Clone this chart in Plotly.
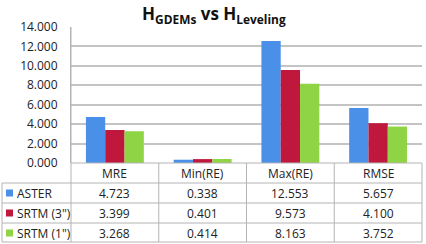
import plotly.graph_objects as go

categories = ["MRE", "Min(RE)", "Max(RE)", "RMSE"]
series_names = ["ASTER", 'SRTM (3")', 'SRTM (1")']
aster = [4.723, 0.338, 12.553, 5.657]
srtm3 = [3.399, 0.401, 9.573, 4.100]
srtm1 = [3.268, 0.414, 8.163, 3.752]
series_values = [aster, srtm3, srtm1]
colors = ["#4a8fe8", "#c0173c", "#8fd445"]
y_ticks = [0, 2, 4, 6, 8, 10, 12, 14]
y_tick_labels = ["0.000", "2.000", "4.000", "6.000", "8.000", "10.000", "12.000", "14.000"]

W, H = 426, 244
ML, MR, MT, MB = 71, 4, 27, 81
PW = W - ML - MR
PH = H - MT - MB
FONT = "Open Sans"


def px_x(px):
    return (px - ML) / PW


def px_y(py):
    return (H - MB - py) / PH


fig = go.Figure()
for name, vals, col in zip(series_names, series_values, colors):
    fig.add_trace(go.Bar(x=categories, y=vals, name=name, marker=dict(color=col, line=dict(width=0))))

shapes = []
annotations = []
line_col = "#b4b4b4"
# table horizontal lines
row_tops = [163, 183, 203, 223, 242]
for i, yy in enumerate(row_tops):
    x0 = ML if i == 0 else 2
    shapes.append(dict(type="line", xref="paper", yref="paper", x0=px_x(x0), x1=1,
                       y0=px_y(yy), y1=px_y(yy), line=dict(color=line_col, width=1)))
# vertical lines
shapes.append(dict(type="line", xref="paper", yref="paper", x0=px_x(2), x1=px_x(2),
                   y0=px_y(183), y1=px_y(242), line=dict(color=line_col, width=1)))
for k in range(len(categories) + 1):
    xx = k / len(categories)
    y_top = 1 if k == 0 else px_y(163)
    shapes.append(dict(type="line", xref="paper", yref="paper", x0=xx, x1=xx,
                       y0=px_y(242), y1=y_top, line=dict(color=line_col, width=1)))

tfont = dict(family=FONT, size=12, color="#222222")
# header row
for c in categories:
    annotations.append(dict(xref="x", yref="paper", x=c, y=px_y(173), text=c, showarrow=False,
                            font=tfont, xanchor="center", yanchor="middle"))
# data rows
for r, (name, vals, col) in enumerate(zip(series_names, series_values, colors)):
    cy = 193 + 20 * r
    shapes.append(dict(type="rect", xref="paper", yref="paper", x0=px_x(6), x1=px_x(13),
                       y0=px_y(cy - 3.5), y1=px_y(cy + 3.5), fillcolor=col, line=dict(width=0)))
    annotations.append(dict(xref="paper", yref="paper", x=px_x(15), y=px_y(cy), text=name,
                            showarrow=False, font=tfont, xanchor="left", yanchor="middle"))
    for c, v in zip(categories, vals):
        annotations.append(dict(xref="x", yref="paper", x=c, y=px_y(cy), text=f"{v:.3f}",
                                showarrow=False, font=tfont, xanchor="center", yanchor="middle"))

fig.update_layout(
    width=W, height=H,
    margin=dict(l=ML, r=MR, t=MT, b=MB),
    paper_bgcolor="white", plot_bgcolor="white",
    barmode="group", bargap=0.34, bargroupgap=0,
    showlegend=False,
    title=dict(text="<b>H<sub>GDEMs</sub> vs H<sub>Leveling</sub></b>", x=0.502, xanchor="center",
               y=1 - 14 / H, yanchor="middle", font=dict(family=FONT, size=17, color="#111111")),
    font=dict(family=FONT, size=12, color="#222222"),
    xaxis=dict(showticklabels=False, showgrid=False, showline=False, zeroline=False, ticks=""),
    yaxis=dict(range=[0, 14], tickvals=y_ticks, ticktext=y_tick_labels, showgrid=True,
               gridcolor="#c4c4c4", gridwidth=1.5, zeroline=False, showline=True, linecolor="#b4b4b4",
               linewidth=1, ticks="", ticklabelstandoff=10, tickfont=dict(family=FONT, size=12, color="#222222")),
    shapes=shapes, annotations=annotations,
)

fig.write_html("out.html", config={"displayModeBar": False},
               post_script="document.body.style.margin='0';document.body.style.overflow='hidden';")
